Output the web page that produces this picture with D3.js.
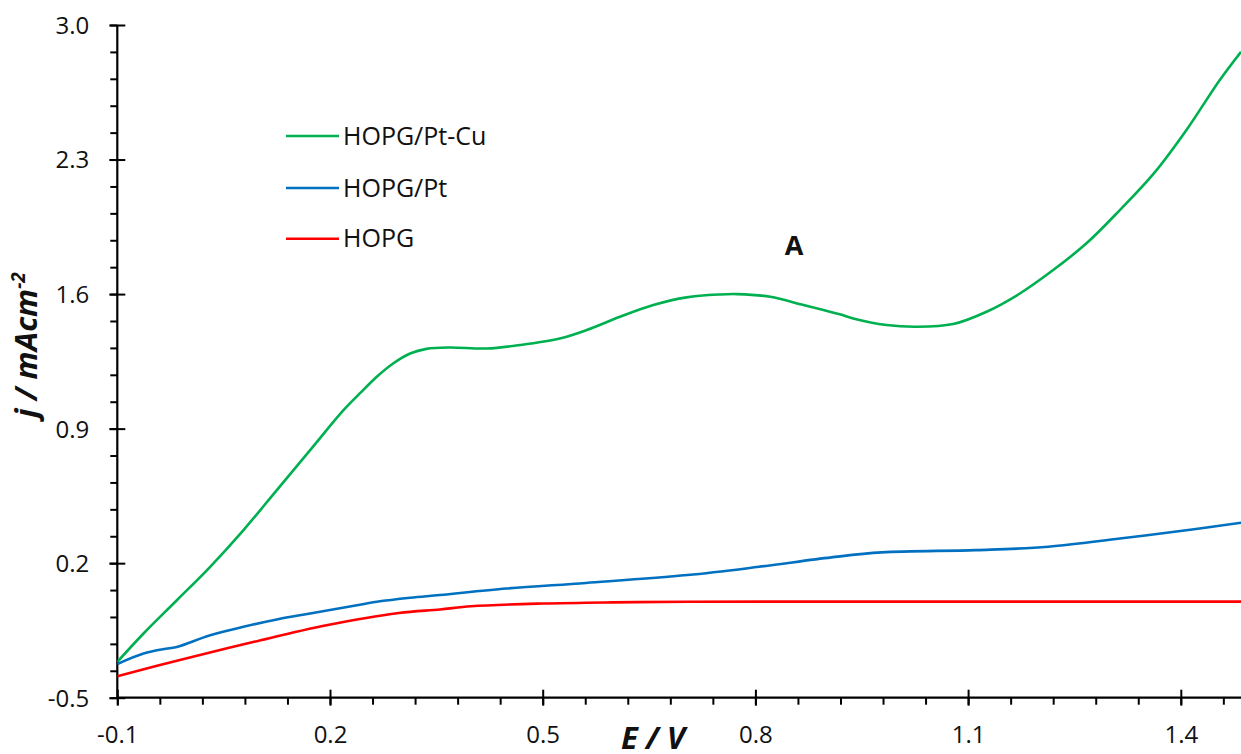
<!DOCTYPE html>
<html><head><meta charset="utf-8">
<script src="https://cdn.jsdelivr.net/npm/d3@7"></script>
<style>
html,body{margin:0;padding:0;background:#fff;}
svg{display:block;font-family:"Open Sans",sans-serif;}
</style></head>
<body>
<svg id="chart" width="1241" height="754"></svg>
<script>
// ---- data ----
const seriesNames = ["HOPG/Pt-Cu", "HOPG/Pt", "HOPG"];
const seriesColors = ["#00B050", "#0070C0", "#FF0000"];

const ptcuE = [-0.1,-0.063,-0.016,0.031,0.078,0.125,0.172,0.219,0.242,0.266,0.289,0.313,0.336,0.369,0.421,0.468,0.524,0.562,0.609,0.656,0.703,0.75,0.774,0.821,0.868,0.919,0.938,0.985,1.027,1.079,1.126,1.173,1.220,1.267,1.314,1.362,1.408,1.455,1.485];
const ptcuJ = [-0.314,-0.166,0.007,0.181,0.372,0.58,0.788,0.996,1.083,1.170,1.239,1.291,1.315,1.322,1.317,1.335,1.369,1.413,1.482,1.543,1.583,1.598,1.600,1.586,1.543,1.495,1.473,1.439,1.430,1.444,1.508,1.603,1.725,1.864,2.037,2.228,2.454,2.714,2.861];

const ptE = [-0.1,-0.063,-0.029,-0.016,0.031,0.078,0.125,0.172,0.226,0.266,0.313,0.355,0.449,0.561,0.704,0.805,0.907,0.978,1.111,1.213,1.314,1.416,1.485];
const ptJ = [-0.325,-0.27,-0.244,-0.236,-0.175,-0.131,-0.093,-0.062,-0.027,-0.001,0.020,0.034,0.068,0.097,0.138,0.181,0.230,0.256,0.268,0.285,0.328,0.375,0.410];

const hopgE = [-0.1,-0.009,0.093,0.195,0.297,0.355,0.399,0.5,0.6,0.704,0.9,1.1,1.3,1.485];
const hopgJ = [-0.388,-0.301,-0.209,-0.123,-0.059,-0.041,-0.024,-0.010,-0.004,-0.001,0.0,0.0,0.0,0.0];

const xMajorTicks = [-0.1,0.2,0.5,0.8,1.1,1.4];
const yMajorTicks = [-0.5,0.2,0.9,1.6,2.3,3.0];

// ---- layout ----
const svg = d3.select("#chart");
const x0 = 117.3, y0 = 697.7, yTop = 25;
const x = d3.scaleLinear().domain([-0.1, 1.5]).range([x0, x0 + 1.6*709]);
const y = d3.scaleLinear().domain([-0.5, 3.0]).range([y0, yTop]);
const fmt = v => d3.format(".1f")(v).replace("\u2212", "-");

const xMinor = d3.range(0, 27).map(i => -0.1 + i*0.06).filter(v => v <= 1.5);
const yMinor = d3.range(0, 26).map(i => -0.5 + i*0.14);

// minor ticks
svg.append("g").attr("transform", `translate(0,${y0})`)
  .call(d3.axisBottom(x).tickValues(xMinor).tickSize(7).tickFormat(""))
  .call(g => g.select(".domain").remove())
  .call(g => g.selectAll("line").attr("stroke","#000").attr("stroke-width",2));
svg.append("g").attr("transform", `translate(${x0},0)`)
  .call(d3.axisLeft(y).tickValues(yMinor).tickSize(7).tickFormat(""))
  .call(g => g.select(".domain").remove())
  .call(g => g.selectAll("line").attr("stroke","#000").attr("stroke-width",2));

// major x axis
svg.append("g").attr("transform", `translate(0,${y0})`)
  .call(d3.axisBottom(x).tickValues(xMajorTicks).tickSize(8).tickPadding(0).tickFormat(fmt))
  .call(g => g.select(".domain").attr("d", `M${x0},0H1260`).attr("stroke","#000").attr("stroke-width",2.2))
  .call(g => g.selectAll(".tick line").attr("y1",-8).attr("y2",8).attr("stroke","#000").attr("stroke-width",2))
  .call(g => g.selectAll(".tick text").attr("y",37).attr("dy","0.35em")
      .attr("font-family","Open Sans, sans-serif").attr("font-size",24).attr("fill","#111"));

// major y axis
svg.append("g").attr("transform", `translate(${x0},0)`)
  .call(d3.axisLeft(y).tickValues(yMajorTicks).tickSize(8).tickFormat(fmt))
  .call(g => g.select(".domain").attr("d", `M0,${y0}V${yTop}`).attr("stroke","#000").attr("stroke-width",2.2))
  .call(g => g.selectAll(".tick line").attr("x1",-8).attr("x2",8).attr("stroke","#000").attr("stroke-width",2))
  .call(g => g.selectAll(".tick text").attr("x",-28).attr("dy","0.35em")
      .attr("font-family","Open Sans, sans-serif").attr("font-size",24).attr("fill","#111"));

// lines
const allSeries = [
  {E: ptcuE, J: ptcuJ},
  {E: ptE, J: ptJ},
  {E: hopgE, J: hopgJ}
];
const line = d3.line().x(d => x(d[0])).y(d => y(d[1])).curve(d3.curveCatmullRom.alpha(0.5));
svg.append("clipPath").attr("id","clip").append("rect").attr("x",x0).attr("y",0).attr("width",1241-x0).attr("height",y0);
allSeries.forEach((s,i) => {
  const pts = s.E.map((e,k) => [e, s.J[k]]);
  svg.append("path").attr("d", line(pts)).attr("fill","none")
    .attr("stroke", seriesColors[i]).attr("stroke-width",2.6).attr("clip-path","url(#clip)");
});

// legend
const legY = [136, 188, 238.7];
seriesNames.forEach((n,i) => {
  svg.append("line").attr("x1",286).attr("x2",339).attr("y1",legY[i]).attr("y2",legY[i])
    .attr("stroke",seriesColors[i]).attr("stroke-width",2.6);
  svg.append("text").attr("x",343).attr("y",legY[i]).attr("dy","0.35em")
    .attr("font-size",25).attr("fill","#111").text(n);
});

// annotation
svg.append("text").attr("x",794).attr("y",246).attr("dy","0.35em").attr("text-anchor","middle")
  .attr("font-size",27).attr("font-weight","bold").attr("fill","#111").text("A");

// axis titles
svg.append("text").attr("x",653).attr("y",749).attr("text-anchor","middle")
  .attr("font-size",31).attr("font-weight","bold").attr("font-style","italic").attr("fill","#111").text("E / V");

const yt = svg.append("text").attr("transform","translate(37,345) rotate(-90)").attr("text-anchor","middle")
  .attr("font-size",31).attr("font-weight","bold").attr("font-style","italic").attr("fill","#111");
yt.append("tspan").text("j / mAcm");
yt.append("tspan").attr("dy",-12).attr("font-size",19).text("-2");
</script>
</body></html>
